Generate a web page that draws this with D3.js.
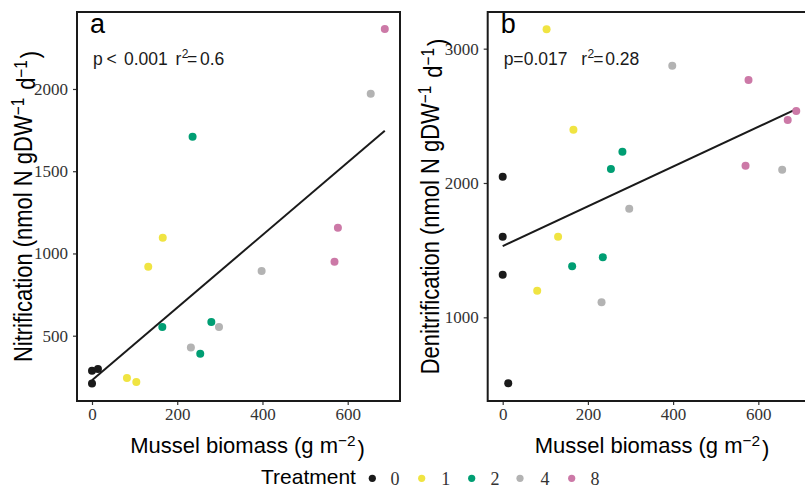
<!DOCTYPE html>
<html>
<head>
<meta charset="utf-8">
<script src="https://cdn.jsdelivr.net/npm/d3@7"></script>
<style>
  html, body { margin: 0; padding: 0; background: #fff; }
  svg { display: block; }
</style>
</head>
<body>
<svg id="chart" width="805" height="488"></svg>
<script>
// ---- data ----
const treatments = ["0", "1", "2", "4", "8"];
const treatmentColors = ["#1a1a1a", "#f0e442", "#009e73", "#b3b3b3", "#cc79a7"];

// Panel a: nitrification
const nitBiomass   = [0, 14, 0, 82, 104, 132, 166, 165, 236, 254, 280, 232, 298, 398, 654, 569, 577, 687];
const nitRate      = [287, 297, 210, 243, 218, 919, 1096, 553, 1710, 390, 583, 429, 553, 893, 1971, 950, 1157, 2365];
const nitTreatment = ["0","0","0","1","1","1","1","2","2","2","2","4","4","4","4","8","8","8"];

// Panel b: denitrification
const denBiomass   = [0, 0, 0, 13, 81, 103, 130, 166, 163, 235, 254, 281, 232, 297, 398, 656, 570, 577, 669, 689];
const denRate      = [2047, 1600, 1317, 509, 1198, 3144, 1600, 2397, 1380, 1447, 2104, 2233, 1112, 1809, 2873, 2099, 2129, 2767, 2469, 2536];
const denTreatment = ["0","0","0","0","1","1","1","1","2","2","2","2","4","4","4","4","8","8","8","8"];

const xTicks = [0, 200, 400, 600];
const nitYTicks = [500, 1000, 1500, 2000];
const denYTicks = [1000, 2000, 3000];

const nitStats = { p: "<", pval: "0.001", r2: "0.6" };
const denStats = { p: "=", pval: "0.017", r2: "0.28" };

// ---- drawing ----
const svg = d3.select("#chart");
const color = d3.scaleOrdinal().domain(treatments).range(treatmentColors);
const SANS = "'Liberation Sans', Arial, Helvetica, sans-serif";
const SERIF = "'Liberation Serif', 'Times New Roman', serif";

function fit(xs, ys) {
  const mx = d3.mean(xs), my = d3.mean(ys);
  let sxy = 0, sxx = 0;
  xs.forEach((x, i) => { sxy += (x - mx) * (ys[i] - my); sxx += (x - mx) * (x - mx); });
  const b = sxy / sxx;
  return { a: my - b * mx, b };
}

function supText(sel, parts) {
  parts.forEach(([t, sup]) => {
    if (sup) {
      sel.append("tspan").attr("dy", "-0.45em").attr("font-size", "0.7em").text(t);
      sel.append("tspan").attr("dy", "0.45em").text("\u200A");
    } else {
      sel.append("tspan").text(t);
    }
  });
}

function panel(opts) {
  const { left, right, top, bottom, xDomain, yDomain, xs, ys, ts, yTicks, letter, yTitle, xTitleX, yTitleX, stats } = opts;
  const g = svg.append("g");
  const x = d3.scaleLinear().domain(xDomain).range([left, right]);
  const y = d3.scaleLinear().domain(yDomain).range([bottom, top]);

  // y axis
  const yAxis = d3.axisLeft(y).tickValues(yTicks).tickSize(4).tickPadding(5).tickFormat(d3.format("d"));
  const ya = g.append("g").attr("transform", `translate(${left},0)`).call(yAxis);
  ya.select(".domain").remove();
  ya.selectAll(".tick line").attr("stroke", "#333").attr("stroke-width", 1.2);
  ya.selectAll(".tick text").attr("font-family", SERIF).attr("font-size", 17).attr("fill", "#333");

  // x axis
  const xAxis = d3.axisBottom(x).tickValues(xTicks).tickSize(4).tickPadding(3).tickFormat(d3.format("d"));
  const xa = g.append("g").attr("transform", `translate(0,${bottom})`).call(xAxis);
  xa.select(".domain").remove();
  xa.selectAll(".tick line").attr("stroke", "#333").attr("stroke-width", 1.2);
  xa.selectAll(".tick text").attr("font-family", SERIF).attr("font-size", 17).attr("fill", "#333");

  // box
  g.append("rect")
    .attr("x", left).attr("y", top)
    .attr("width", right - left).attr("height", bottom - top)
    .attr("fill", "none").attr("stroke", "#1a1a1a").attr("stroke-width", 2);

  // regression line
  const f = fit(xs, ys);
  const x0 = d3.min(xs), x1 = d3.max(xs);
  g.append("line")
    .attr("x1", x(x0)).attr("y1", y(f.a + f.b * x0))
    .attr("x2", x(x1)).attr("y2", y(f.a + f.b * x1))
    .attr("stroke", "#1a1a1a").attr("stroke-width", 2);

  // points
  g.selectAll("circle.pt").data(xs.map((v, i) => ({ x: v, y: ys[i], t: ts[i] })))
    .join("circle").attr("class", "pt")
    .attr("cx", d => x(d.x)).attr("cy", d => y(d.y)).attr("r", 4)
    .attr("fill", d => color(d.t));

  // panel letter
  g.append("text").attr("x", left + 13).attr("y", top + 21)
    .attr("font-family", SANS).attr("font-size", 27).attr("fill", "#000").text(letter);

  // stats annotation
  const st = g.append("text").attr("font-family", SANS).attr("font-size", 17.5).attr("fill", "#1a1a1a")
    .attr("y", 64.5);
  const sx = left + 16;
  st.append("tspan").attr("x", sx).text("p");
  if (stats.p === "<") {
    st.append("tspan").attr("x", sx + 13.5).text("<");
    st.append("tspan").attr("x", sx + 31).text(stats.pval);
    st.append("tspan").attr("x", sx + 82.5).text("r");
    st.append("tspan").attr("x", sx + 88.7).attr("dy", -7).attr("font-size", 12).text("2");
    st.append("tspan").attr("x", sx + 94).attr("dy", 7).text("=");
    st.append("tspan").attr("x", sx + 107).text(stats.r2);
  } else {
    st.append("tspan").attr("x", sx + 9.5).text("=");
    st.append("tspan").attr("x", sx + 20).text(stats.pval);
    st.append("tspan").attr("x", sx + 77.5).text("r");
    st.append("tspan").attr("x", sx + 83.7).attr("dy", -7).attr("font-size", 12).text("2");
    st.append("tspan").attr("x", sx + 89.5).attr("dy", 7).text("=");
    st.append("tspan").attr("x", sx + 101.5).text(stats.r2);
  }

  // x title
  const xt = g.append("text").attr("x", xTitleX).attr("y", 453).attr("text-anchor", "middle")
    .attr("font-family", SANS).attr("font-size", 22).attr("fill", "#000");
  supText(xt, [["Mussel biomass (g m", false], ["\u22122", true], [")", false]]);

  // y title
  const yt = g.append("text")
    .attr("transform", `translate(${yTitleX},${(top + bottom) / 2}) rotate(-90) scale(1,1.15)`)
    .attr("text-anchor", "middle").attr("font-family", SANS).attr("font-size", 22).attr("fill", "#000");
  supText(yt, [[yTitle + " (nmol N gDW", false], ["\u22121", true], [" d", false], ["\u22121", true], [")", false]]);
}

panel({
  left: 77, right: 400, top: 12, bottom: 401,
  xDomain: [-35.2, 722.7], yDomain: [103, 2468],
  xs: nitBiomass, ys: nitRate, ts: nitTreatment, yTicks: nitYTicks,
  letter: "a", yTitle: "Nitrification", xTitleX: 247.5, yTitleX: 32, stats: nitStats
});
panel({
  left: 487.7, right: 810.6, top: 12, bottom: 401,
  xDomain: [-35.2, 722.7], yDomain: [377, 3273],
  xs: denBiomass, ys: denRate, ts: denTreatment, yTicks: denYTicks,
  letter: "b", yTitle: "Denitrification", xTitleX: 652, yTitleX: 439, stats: denStats
});

// ---- legend ----
const lg = svg.append("g");
lg.append("text").attr("x", 261).attr("y", 484).attr("font-family", SANS).attr("font-size", 21)
  .attr("fill", "#000").text("Treatment");
const dotX = [372.3, 421.7, 471.7, 520, 571.7];
const labX = [395, 445.7, 495, 545, 595];
treatments.forEach((t, i) => {
  lg.append("circle").attr("cx", dotX[i]).attr("cy", 478.3).attr("r", 3.6).attr("fill", color(t));
  lg.append("text").attr("x", labX[i]).attr("y", 485).attr("text-anchor", "middle")
    .attr("font-family", SERIF).attr("font-size", 18).attr("fill", "#333").text(t);
});
</script>
</body>
</html>
